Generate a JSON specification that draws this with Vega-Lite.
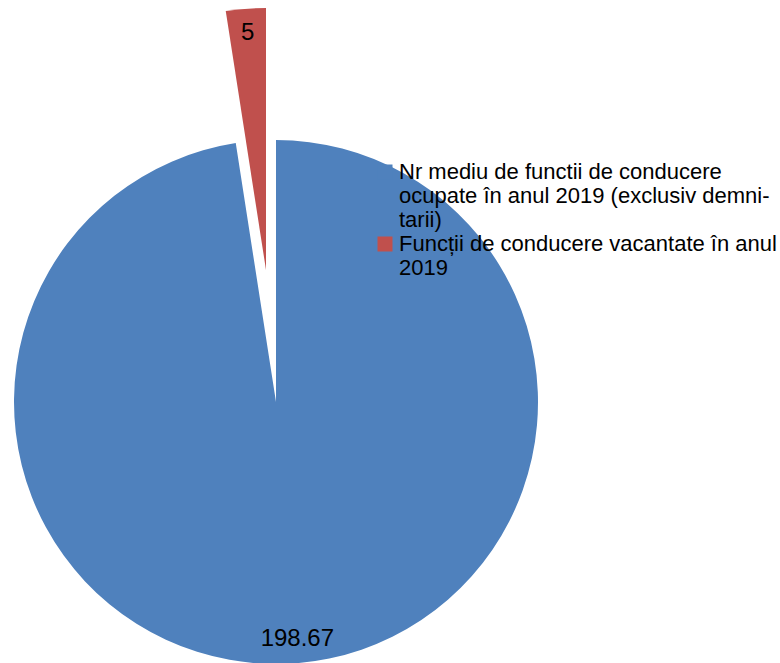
{
  "$schema": "https://vega.github.io/schema/vega-lite/v6.json",
  "width": 552,
  "height": 522,
  "autosize": "none",
  "padding": {"left": 0, "top": 141, "right": 228, "bottom": 0},
  "background": "white",
  "config": {"view": {"stroke": null}, "font": "Liberation Sans"},
  "data": {
    "values": [
      {"categorie": "Nr mediu de functii de conducere ocupate în anul 2019 (exclusiv demnitarii)", "valoare": 198.67},
      {"categorie": "Funcții de conducere vacantate în anul 2019", "valoare": 5}
    ]
  },
  "encoding": {
    "theta": {"field": "valoare", "type": "quantitative", "stack": true},
    "order": {"field": "valoare", "sort": "descending"}
  },
  "layer": [
    {
      "mark": {"type": "arc", "radius": 262},
      "encoding": {
        "color": {
          "field": "categorie",
          "type": "nominal",
          "scale": {
            "domain": ["Nr mediu de functii de conducere ocupate în anul 2019 (exclusiv demnitarii)", "Funcții de conducere vacantate în anul 2019"],
            "range": ["#4F81BD", "#C0504D"]
          },
          "legend": {
            "orient": "none",
            "legendX": 374,
            "legendY": 20,
            "title": null,
            "padding": 0,
            "symbolType": "square",
            "symbolSize": 225,
            "symbolStrokeWidth": 0,
            "labelFont": "Liberation Sans",
            "labelFontSize": 22,
            "labelColor": "black",
            "labelLimit": 450,
            "labelOffset": 3,
            "rowPadding": 2,
            "labelExpr": "datum.value == 'Funcții de conducere vacantate în anul 2019' ? ['Funcții de conducere vacantate în anul', '2019'] : ['Nr mediu de functii de conducere', 'ocupate în anul 2019 (exclusiv demni-', 'tarii)']",
            "encode": {"labels": {"update": {"lineHeight": {"value": 23}}}}
          }
        },
        "opacity": {"condition": {"test": "datum.valoare > 10", "value": 1}, "value": 0}
      }
    },
    {
      "mark": {"type": "arc", "radius": 262, "xOffset": -10, "yOffset": -132},
      "encoding": {
        "color": {"field": "categorie", "type": "nominal"},
        "opacity": {"condition": {"test": "datum.valoare < 10", "value": 1}, "value": 0}
      }
    },
    {
      "mark": {"type": "text", "radius": 238, "fontSize": 24, "font": "Liberation Sans", "color": "black", "xOffset": 3},
      "encoding": {
        "text": {"field": "valoare", "type": "nominal"},
        "opacity": {"condition": {"test": "datum.valoare > 10", "value": 1}, "value": 0}
      }
    },
    {
      "mark": {"type": "text", "radius": 238, "fontSize": 24, "font": "Liberation Sans", "color": "black", "xOffset": -10, "yOffset": -132},
      "encoding": {
        "text": {"field": "valoare", "type": "nominal"},
        "opacity": {"condition": {"test": "datum.valoare < 10", "value": 1}, "value": 0}
      }
    }
  ]
}
